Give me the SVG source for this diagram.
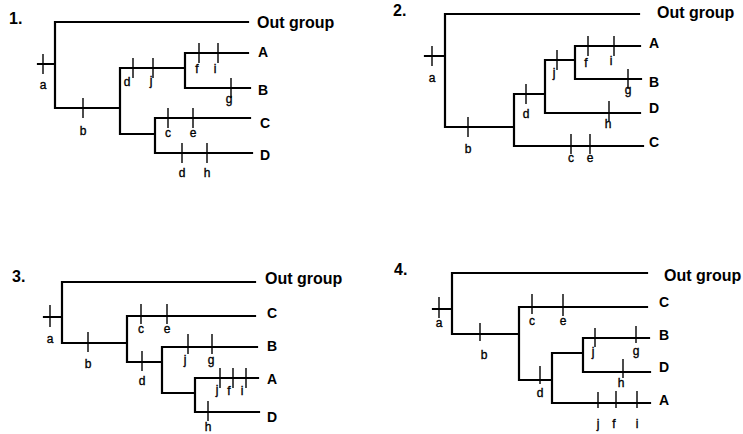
<svg xmlns="http://www.w3.org/2000/svg" width="743" height="434" viewBox="0 0 743 434">
<style>
.br{fill:none;stroke:#000;stroke-width:2.2;stroke-linecap:square}
.tk{fill:none;stroke:#000;stroke-width:1.4}
.num{font-family:"Liberation Sans",Arial,sans-serif;font-weight:bold;font-size:16px;fill:#000}
.og{font-family:"Liberation Sans",Arial,sans-serif;font-weight:bold;font-size:16px;fill:#000}
.tip{font-family:"Liberation Sans",Arial,sans-serif;font-weight:bold;font-size:14px;fill:#000}
.ch{font-family:"Liberation Sans",Arial,sans-serif;font-size:12px;fill:#000;stroke:#000;stroke-width:0.35;text-anchor:middle}
</style>
<rect width="743" height="434" fill="#fff"/>

<g id="tree1">
<text class="num" x="9" y="24">1.</text>
<g id="tree1-connectors">
<path class="br" d="M55,22H248M55,22V108M38,64H55M55,108H120M120,68V134M120,68H185M185,53V88M185,53H248M185,88H250M120,134H155M155,118V153M155,118H250M155,153H252"/>
<path class="tk" d="M43,54V74M83,98V118M133,58V78M153,58V78M199,43V63M218,43V63M231,78V98M168,108V128M193,108V128M182,143V163M207,143V163"/>
</g>
<g id="tree1-labels">
<text class="og" x="257" y="28">Out group</text>
<text class="tip" x="258" y="57">A</text>
<text class="tip" x="258" y="95">B</text>
<text class="tip" x="260" y="128">C</text>
<text class="tip" x="260" y="160">D</text>
<text class="ch" x="43" y="89">a</text>
<text class="ch" x="83" y="135">b</text>
<text class="ch" x="127" y="86">d</text>
<text class="ch" x="151" y="85">j</text>
<text class="ch" x="197" y="73">f</text>
<text class="ch" x="215" y="73">i</text>
<text class="ch" x="229" y="103">g</text>
<text class="ch" x="168" y="137">c</text>
<text class="ch" x="193" y="137">e</text>
<text class="ch" x="182" y="177">d</text>
<text class="ch" x="207" y="177">h</text>
</g>
</g>

<g id="tree2">
<text class="num" x="393" y="16">2.</text>
<g id="tree2-connectors">
<path class="br" d="M445,14H639M445,14V127M425,56H445M445,127H514M514,94V146M514,94H545M545,60V113M545,60H575M575,46V79M575,46H640M575,79H641M545,113H640M514,146H643"/>
<path class="tk" d="M432,46V66M468,117V137M526,84V104M557,50V70M588,36V56M614,36V56M628,69V89M609,101V121M571,134V154M590,134V154"/>
</g>
<g id="tree2-labels">
<text class="og" x="657" y="18">Out group</text>
<text class="tip" x="649" y="48">A</text>
<text class="tip" x="649" y="87">B</text>
<text class="tip" x="649" y="113">D</text>
<text class="tip" x="649" y="147">C</text>
<text class="ch" x="432" y="82">a</text>
<text class="ch" x="468" y="153">b</text>
<text class="ch" x="526" y="118">d</text>
<text class="ch" x="554" y="77">j</text>
<text class="ch" x="586" y="67">f</text>
<text class="ch" x="611" y="65">i</text>
<text class="ch" x="628" y="94">g</text>
<text class="ch" x="608" y="128">h</text>
<text class="ch" x="571" y="162">c</text>
<text class="ch" x="590" y="162">e</text>
</g>
</g>

<g id="tree3">
<text class="num" x="12" y="282">3.</text>
<g id="tree3-connectors">
<path class="br" d="M62,282H255M62,282V343M44,317H62M62,343H127M127,316V362M127,316H255M127,362H162M162,347V393M162,347H257M162,393H195M195,378V412M195,378H258M195,412H259"/>
<path class="tk" d="M50,305V327M88,332V352M141,304V324M167,304V324M142,351V371M188,334V354M212,334V354M220,368V388M233,368V388M246,368V388M208,401V421"/>
</g>
<g id="tree3-labels">
<text class="og" x="265" y="284">Out group</text>
<text class="tip" x="267" y="318">C</text>
<text class="tip" x="267" y="351">B</text>
<text class="tip" x="267" y="384">A</text>
<text class="tip" x="267" y="422">D</text>
<text class="ch" x="50" y="343">a</text>
<text class="ch" x="88" y="368">b</text>
<text class="ch" x="141" y="333">c</text>
<text class="ch" x="167" y="333">e</text>
<text class="ch" x="142" y="385">d</text>
<text class="ch" x="185" y="364">j</text>
<text class="ch" x="211" y="364">g</text>
<text class="ch" x="217" y="394">j</text>
<text class="ch" x="229" y="395">f</text>
<text class="ch" x="242" y="395">i</text>
<text class="ch" x="208" y="431">h</text>
</g>
</g>

<g id="tree4">
<text class="num" x="394" y="275">4.</text>
<g id="tree4-connectors">
<path class="br" d="M452,273H647M452,273V334M433,309H452M452,334H519M519,307V380M519,307H647M519,380H552M552,353V403M552,353H583M583,338V372M583,338H649M583,372H650M552,403H650"/>
<path class="tk" d="M439,297V318M480,323V341M532,294V314M563,294V316M540,366V384M595,328V347M636,326V343M623,359V378M598,392V408M616,391V408M637,391V408"/>
</g>
<g id="tree4-labels">
<text class="og" x="664" y="281">Out group</text>
<text class="tip" x="659" y="307">C</text>
<text class="tip" x="659" y="340">B</text>
<text class="tip" x="659" y="372">D</text>
<text class="tip" x="659" y="405">A</text>
<text class="ch" x="439" y="327">a</text>
<text class="ch" x="484" y="359">b</text>
<text class="ch" x="532" y="325">c</text>
<text class="ch" x="563" y="325">e</text>
<text class="ch" x="540" y="397">d</text>
<text class="ch" x="593" y="356">j</text>
<text class="ch" x="636" y="355">g</text>
<text class="ch" x="621" y="387">h</text>
<text class="ch" x="598" y="428">j</text>
<text class="ch" x="614" y="428">f</text>
<text class="ch" x="637" y="428">i</text>
</g>
</g>
</svg>
